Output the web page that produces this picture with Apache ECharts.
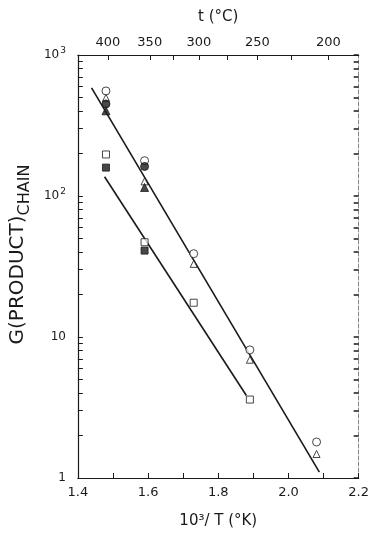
<!DOCTYPE html>
<html>
<head>
<meta charset="utf-8">
<script src="https://cdn.jsdelivr.net/npm/echarts@6/dist/echarts.min.js"></script>
<style>
  html, body { margin: 0; padding: 0; background: #fff; }
  #chart { width: 372px; height: 534px; }
</style>
</head>
<body>
<div id="chart"></div>
<script>
// 10^3/T values of the measured points
const xGroups = [1.48, 1.59, 1.73, 1.89, 2.08]

const openCircle = [556, 178, 39, 8.1, 1.8]
const openTriangle = [497, 127, 33, 6.9, 1.48]
const filledCircle = [450, 162, null, null, null]
const filledTriangle = [402, 115, null, null, null]
const openSquare = [197, 47, 17.5, 3.6, null]
const filledSquare = [159, 41, null, null, null]

// fitted lines (end points)
const upperLineX = [1.439, 2.088]
const upperLineY = [584, 1.1]
const lowerLineX = [1.476, 1.88]
const lowerLineY = [137, 3.85]

// top axis, temperatures in °C
const topTempLabels = [400, 350, 300, 250, 200]
const topTempTicks = [400, 350, 325, 300, 275, 250, 225, 200]

const logMinor = []
;[1, 10, 100].forEach(d => {
  for (let k = 1; k < 10; k++) logMinor.push(k * d)
})
logMinor.push(1000)

const toInvT = (t) => 1000 / (t + 273.15)
const pairs = (ys) => xGroups.map((x, i) => [x, ys[i]]).filter(p => p[1] != null)

const font = 'DejaVu Sans'
const ink = '#1a1a1a'

const chart = echarts.init(document.getElementById('chart'))

const marker = (name, data, symbol, size, filled) => ({
  name,
  type: 'scatter',
  data: pairs(data),
  symbol,
  symbolSize: size,
  z: 5,
  itemStyle: {
    color: filled ? ink : '#fff',
    borderColor: ink,
    borderWidth: 1
  }
})

chart.setOption({
  animation: false,
  grid: { left: 76, right: 11, top: 55, bottom: 54 },
  xAxis: [
    {
      type: 'value',
      position: 'bottom',
      min: 1.4,
      max: 2.2,
      interval: 0.1,
      name: '10³/ T (°K)',
      nameLocation: 'middle',
      nameGap: 36,
      nameTextStyle: { fontFamily: font, fontSize: 15, color: ink },
      axisLine: { lineStyle: { color: ink, width: 1.2 } },
      axisTick: { inside: true, length: 5, lineStyle: { color: ink } },
      axisLabel: {
        fontFamily: font,
        fontSize: 13,
        color: ink,
        margin: 8,
        formatter(v) {
          const r = Math.round(v * 10)
          return r % 2 === 0 ? (r / 10).toFixed(1) : ''
        }
      },
      splitLine: { show: false }
    },
    {
      type: 'value',
      position: 'top',
      min: 1.4,
      max: 2.2,
      name: 't (°C)',
      nameLocation: 'middle',
      nameGap: 30,
      nameTextStyle: { fontFamily: font, fontSize: 15, color: ink },
      axisLine: { lineStyle: { color: ink, width: 1.2 } },
      axisTick: {
        inside: true,
        length: 5,
        customValues: topTempTicks.map(toInvT),
        lineStyle: { color: ink }
      },
      axisLabel: {
        fontFamily: font,
        fontSize: 13,
        color: ink,
        margin: 6,
        customValues: topTempLabels.map(toInvT),
        formatter(v) {
          return String(Math.round(1000 / v - 273.15))
        }
      },
      splitLine: { show: false }
    }
  ],
  yAxis: [
    {
      type: 'log',
      logBase: 10,
      min: 1,
      max: 1000,
      position: 'left',
      name: 'G(PRODUCT){sub|CHAIN}',
      nameLocation: 'middle',
      nameGap: 30,
      nameRotate: 90,
      nameTextStyle: {
        fontFamily: font,
        fontSize: 20,
        color: ink,
        padding: [0, 0, 0, 24],
        rich: {
          sub: { fontFamily: font, fontSize: 16, color: ink, verticalAlign: 'bottom', padding: [14, 0, 0, 0] }
        }
      },
      axisLine: { lineStyle: { color: ink, width: 1.2 } },
      axisTick: { inside: true, length: 5, customValues: logMinor, lineStyle: { color: ink } },
      axisLabel: {
        fontFamily: font,
        fontSize: 12,
        color: ink,
        margin: 12,
        formatter(v) {
          if (v === 1) return '1'
          if (v === 10) return '10'
          const e = Math.round(Math.log10(v))
          return '10{sup|' + e + '}'
        },
        rich: {
          sup: { fontFamily: font, fontSize: 9, color: ink, verticalAlign: 'top', padding: [0, 0, 8, 1] }
        }
      },
      splitLine: { show: false }
    },
    {
      type: 'log',
      logBase: 10,
      min: 1,
      max: 1000,
      position: 'right',
      axisLine: { lineStyle: { color: '#888', width: 1, type: 'dashed' } },
      axisTick: { inside: true, length: 5, customValues: logMinor, lineStyle: { color: ink, width: 1.5 } },
      axisLabel: { show: false },
      splitLine: { show: false }
    }
  ],
  series: [
    {
      type: 'line',
      data: upperLineX.map((x, i) => [x, upperLineY[i]]),
      symbol: 'none',
      z: 2,
      lineStyle: { color: ink, width: 1.6 }
    },
    {
      type: 'line',
      data: lowerLineX.map((x, i) => [x, lowerLineY[i]]),
      symbol: 'none',
      z: 2,
      lineStyle: { color: ink, width: 1.6 }
    },
    marker('open circle', openCircle, 'circle', 8, false),
    marker('open triangle', openTriangle, 'triangle', 7, false),
    marker('filled circle', filledCircle, 'circle', 8, true),
    marker('filled triangle', filledTriangle, 'triangle', 8, true),
    marker('open square', openSquare, 'rect', 7, false),
    marker('filled square', filledSquare, 'rect', 7, true)
  ]
})
</script>
</body>
</html>
